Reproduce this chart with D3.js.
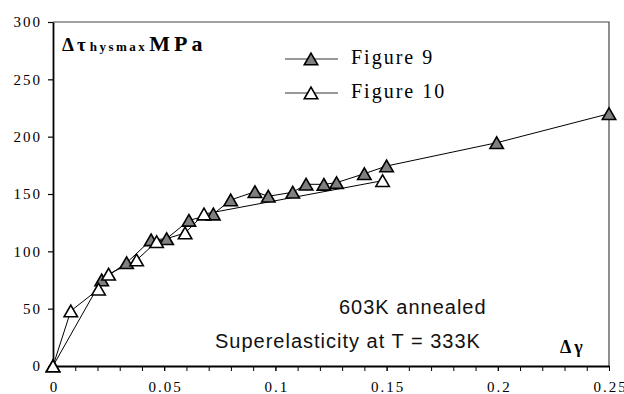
<!DOCTYPE html>
<html>
<head>
<meta charset="utf-8">
<script src="https://cdn.jsdelivr.net/npm/d3@7"></script>
<style>
  body { margin: 0; background: #fff; }
  svg { display: block; }
</style>
</head>
<body>
<svg></svg>
<script>
const width = 624;
const height = 394;
const serif = 'Liberation Serif';
const sans = 'Liberation Sans';

/* Figure 9 series (grey triangles) */
const strain9 = [0, 0.0219, 0.0331, 0.0441, 0.0511, 0.0611, 0.0721, 0.0799, 0.0908, 0.0968,
                 0.1078, 0.1138, 0.1218, 0.1275, 0.14, 0.15, 0.1995, 0.25];
const stress9 = [0, 75, 90, 110, 111, 127, 132.5, 144.8, 152, 148,
                 151.5, 158.5, 158.4, 159.9, 167.7, 174.4, 194.7, 220];

/* Figure 10 series (open triangles) */
const strain10 = [0, 0.008, 0.0205, 0.025, 0.0376, 0.0466, 0.0594, 0.0679, 0.1482];
const stress10 = [0, 48, 67, 80, 92.4, 108.4, 116, 132.5, 161.6];

const seriesNames = ['Figure 9', 'Figure 10'];
const xTickValues = [0, 0.05, 0.1, 0.15, 0.2, 0.25];
const xTickLabels = ['0', '0.05', '0.1', '0.15', '0.2', '0.25'];
const yTickValues = [0, 50, 100, 150, 200, 250, 300];

const plotLeft = 53, plotRight = 609, plotTop = 22, plotBottom = 366;

const svg = d3.select('svg')
  .attr('width', width)
  .attr('height', height);

const x = d3.scaleLinear().domain([0, 0.25]).range([plotLeft, plotRight]);
const y = d3.scaleLinear().domain([0, 300]).range([plotBottom, plotTop]);

/* frame: top and right borders */
svg.append('path')
  .attr('d', `M${plotLeft},${plotTop}H${plotRight}V${plotBottom}`)
  .attr('fill', 'none')
  .attr('stroke', '#444')
  .attr('stroke-width', 1.2);

/* minor x ticks every 0.01 */
const minorTicks = d3.range(0, 26).map(i => i / 100);
svg.append('g')
  .attr('transform', `translate(0,${plotBottom})`)
  .call(d3.axisBottom(x).tickValues(minorTicks).tickFormat('').tickSize(5).tickSizeOuter(0))
  .call(g => g.select('.domain').remove())
  .selectAll('line').attr('stroke', '#000').attr('stroke-width', 1);

/* x axis */
const xAxis = svg.append('g')
  .attr('transform', `translate(0,${plotBottom})`)
  .call(d3.axisBottom(x)
    .tickValues(xTickValues)
    .tickFormat((d, i) => xTickLabels[i])
    .tickSize(5)
    .tickSizeOuter(0))
  .attr('font-family', serif)
  .attr('font-size', 15);
xAxis.select('.domain').attr('stroke', '#000').attr('stroke-width', 1.8);
xAxis.selectAll('text')
  .attr('y', 26)
  .attr('dy', null)
  .attr('dx', 1)
  .attr('font-family', serif)
  .attr('font-size', 15)
  .attr('letter-spacing', 2)
  .attr('fill', '#000');

/* y axis */
const yAxis = svg.append('g')
  .attr('transform', `translate(${plotLeft},0)`)
  .call(d3.axisLeft(y)
    .tickValues(yTickValues)
    .tickSize(5)
    .tickPadding(6)
    .tickSizeOuter(0))
  .attr('font-family', serif)
  .attr('font-size', 15);
yAxis.select('.domain').attr('stroke', '#000').attr('stroke-width', 1.8);
yAxis.selectAll('line').attr('stroke', '#000').attr('stroke-width', 1.2);
yAxis.selectAll('text')
  .attr('font-family', serif)
  .attr('font-size', 15)
  .attr('letter-spacing', 2)
  .attr('fill', '#000');

/* series lines */
const line = d3.line().x(d => x(d[0])).y(d => y(d[1]));
const data9 = strain9.map((v, i) => [v, stress9[i]]);
const data10 = strain10.map((v, i) => [v, stress10[i]]);

svg.append('path').datum(data9)
  .attr('d', line).attr('fill', 'none').attr('stroke', '#000').attr('stroke-width', 1);
svg.append('path').datum(data10)
  .attr('d', line).attr('fill', 'none').attr('stroke', '#000').attr('stroke-width', 1);

/* markers */
const tri = d3.symbol(d3.symbolTriangle, 78);
const shift = 1.9;

function drawMarkers(data, fill) {
  svg.append('g').selectAll('path')
    .data(data)
    .join('path')
      .attr('d', tri)
      .attr('transform', d => `translate(${x(d[0])},${y(d[1]) + shift})`)
      .attr('fill', fill)
      .attr('stroke', '#000')
      .attr('stroke-width', 1.6)
      .attr('stroke-linejoin', 'miter');
}
drawMarkers(data9, '#808080');
drawMarkers(data10, '#fff');

/* legend */
const legendY = [59, 93];
const legendFill = ['#808080', '#fff'];
seriesNames.forEach((name, i) => {
  const g = svg.append('g');
  g.append('line')
    .attr('x1', 285).attr('x2', 338)
    .attr('y1', legendY[i]).attr('y2', legendY[i])
    .attr('stroke', '#333').attr('stroke-width', 1);
  g.append('path')
    .attr('d', tri)
    .attr('transform', `translate(311,${legendY[i] + shift})`)
    .attr('fill', legendFill[i])
    .attr('stroke', '#000')
    .attr('stroke-width', 1.6);
  g.append('text')
    .attr('x', 351).attr('y', legendY[i] + 5)
    .attr('font-family', serif)
    .attr('font-size', 20)
    .attr('letter-spacing', 2)
    .text(name);
});

/* y axis title */
const yTitle = svg.append('text')
  .attr('x', 62).attr('y', 51)
  .attr('font-family', serif)
  .attr('font-weight', 'bold');
yTitle.append('tspan').attr('font-size', 19).attr('letter-spacing', 3).text('Δτ');
yTitle.append('tspan').attr('dx', 1).attr('font-size', 13).attr('letter-spacing', 2.5).text('hysmax');
yTitle.append('tspan').attr('dx', 2).attr('font-size', 22).attr('letter-spacing', 4).text('MPa');

/* x axis title */
svg.append('text')
  .attr('x', 560).attr('y', 353)
  .attr('font-family', serif)
  .attr('font-weight', 'bold')
  .attr('font-size', 18)
  .attr('letter-spacing', 3)
  .text('Δγ');

/* annotations */
const notes = ['603K annealed', 'Superelasticity at T = 333K'];
const noteX = [339, 215];
const noteY = [314, 348];
notes.forEach((t, i) => {
  svg.append('text')
    .attr('x', noteX[i]).attr('y', noteY[i])
    .attr('font-family', sans)
    .attr('font-size', 20)
    .attr('letter-spacing', 1)
    .attr('fill', '#111')
    .text(t);
});
</script>
</body>
</html>
